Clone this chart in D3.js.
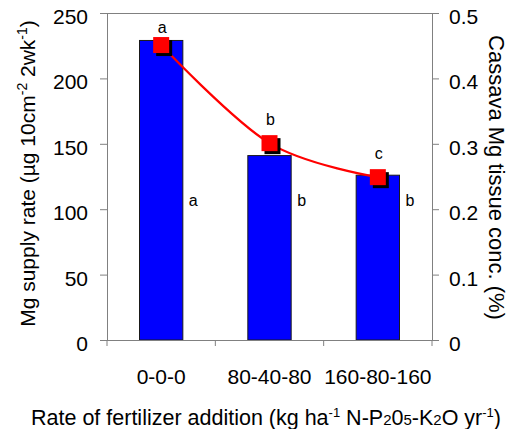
<!DOCTYPE html>
<html>
<head>
<meta charset="utf-8">
<script src="https://cdn.jsdelivr.net/npm/d3@7"></script>
<style>
body { margin: 0; background: #fff; }
text { font-family: "Liberation Sans", Arial, sans-serif; fill: #000; }
</style>
</head>
<body>
<div id="chart"></div>
<script>
// data
const treatments = ["0-0-0", "80-40-80", "160-80-160"];
const supplyRate = [229, 141, 126];          // bars, left axis
const tissueConc = [0.451, 0.301, 0.249];    // red squares, right axis
const barLetters = ["a", "b", "b"];
const lineLetters = ["a", "b", "c"];
const leftTicks = [0, 50, 100, 150, 200, 250];
const rightTicks = [0, 0.1, 0.2, 0.3, 0.4, 0.5];

const width = 511, height = 429;
const margin = { top: 13, right: 79, bottom: 89, left: 107 };

const svg = d3.select("#chart").append("svg")
  .attr("width", width)
  .attr("height", height);

const x = d3.scaleBand()
  .domain(treatments)
  .range([margin.left, width - margin.right]);

const yL = d3.scaleLinear().domain([0, 250]).range([height - margin.bottom, margin.top]);
const yR = d3.scaleLinear().domain([0, 0.5]).range([height - margin.bottom, margin.top]);

const barW = x.bandwidth() * 0.4;

// top frame line
svg.append("line")
  .attr("x1", margin.left).attr("x2", width - margin.right)
  .attr("y1", margin.top + 0.5).attr("y2", margin.top + 0.5)
  .attr("stroke", "#808080");

// bars
svg.append("g").selectAll("rect")
  .data(supplyRate)
  .join("rect")
  .attr("x", (d, i) => x(treatments[i]) + x.bandwidth() / 2 - barW / 2)
  .attr("y", d => yL(d))
  .attr("width", barW)
  .attr("height", d => yL(0) - yL(d))
  .attr("fill", "#0000ff")
  .attr("stroke", "#1a1a1a")
  .attr("stroke-width", 1);

// left axis
const gL = svg.append("g")
  .attr("transform", `translate(${margin.left},0)`)
  .call(d3.axisLeft(yL).tickValues(leftTicks).tickSize(7).tickPadding(12));
// right axis
const gR = svg.append("g")
  .attr("transform", `translate(${width - margin.right},0)`)
  .call(d3.axisRight(yR).tickValues(rightTicks).tickSize(7).tickPadding(10)
    .tickFormat(d => d === 0 ? "0" : d3.format(".1f")(d)));
// bottom axis
const gB = svg.append("g")
  .attr("transform", `translate(0,${height - margin.bottom})`)
  .call(d3.axisBottom(x).tickSize(0).tickPadding(29));

[gL, gR, gB].forEach(g => {
  g.select(".domain").attr("stroke", "#808080");
  g.selectAll(".tick line").attr("stroke", "#808080");
  g.selectAll("text").style("font-size", "21px").style("font-family", "Liberation Sans, Arial, sans-serif").attr("fill", "#000");
});
gL.selectAll(".tick text").attr("dy", "0.5em");
gR.selectAll(".tick text").attr("dy", "0.5em");
gB.select(".domain").attr("d", `M${margin.left},0.5H${width - margin.right}`);

// category boundary ticks on bottom axis
gB.append("g").selectAll("line")
  .data(treatments.concat(["end"]))
  .join("line")
  .attr("x1", (d, i) => i < treatments.length ? x(d) : x(treatments[treatments.length - 1]) + x.bandwidth())
  .attr("x2", (d, i) => i < treatments.length ? x(d) : x(treatments[treatments.length - 1]) + x.bandwidth())
  .attr("y1", 0).attr("y2", 6)
  .attr("stroke", "#808080");

// red smoothed curve
const cx = (d, i) => x(treatments[i]) + x.bandwidth() / 2;
const line = d3.line()
  .x(cx)
  .y(d => yR(d))
  .curve(d3.curveCardinal.tension(0));

svg.append("path")
  .datum(tissueConc)
  .attr("d", line)
  .attr("fill", "none")
  .attr("stroke", "#ff0000")
  .attr("stroke-width", 2.2);

const ms = 16;
// marker shadows
svg.append("g").selectAll("rect")
  .data(tissueConc)
  .join("rect")
  .attr("x", (d, i) => cx(d, i) - ms / 2 + 3)
  .attr("y", d => yR(d) - ms / 2 + 3)
  .attr("width", ms).attr("height", ms)
  .attr("fill", "#000");
// markers
svg.append("g").selectAll("rect")
  .data(tissueConc)
  .join("rect")
  .attr("x", (d, i) => cx(d, i) - ms / 2)
  .attr("y", d => yR(d) - ms / 2)
  .attr("width", ms).attr("height", ms)
  .attr("fill", "#ff0000");

// letters above markers
svg.append("g").selectAll("text")
  .data(tissueConc)
  .join("text")
  .attr("x", (d, i) => cx(d, i) + 1)
  .attr("y", d => Math.max(yR(d) - 18, 33))
  .attr("text-anchor", "middle")
  .style("font-size", "16px")
  .text((d, i) => lineLetters[i]);

// letters beside bars
svg.append("g").selectAll("text")
  .data(supplyRate)
  .join("text")
  .attr("x", (d, i) => cx(d, i) + barW / 2 + 6)
  .attr("y", yL(100) - 3)
  .style("font-size", "16px")
  .text((d, i) => barLetters[i]);

// axis titles
const midY = (margin.top + height - margin.bottom) / 2;
const lt = svg.append("text")
  .attr("transform", `translate(35,${midY - 3}) rotate(-90)`)
  .attr("text-anchor", "middle")
  .style("font-size", "21px");
lt.append("tspan").text("Mg supply rate (\u00b5g 10cm");
lt.append("tspan").attr("dy", -8).style("font-size", "14px").text("-2");
lt.append("tspan").attr("dy", 8).text(" 2wk");
lt.append("tspan").attr("dy", -8).style("font-size", "14px").text("-1");
lt.append("tspan").attr("dy", 8).text(")");

svg.append("text")
  .attr("transform", `translate(489,${midY + 1}) rotate(90)`)
  .attr("text-anchor", "middle")
  .style("font-size", "22px")
  .text("Cassava Mg tissue conc. (%)");

const bt = svg.append("text")
  .attr("x", 266).attr("y", 425)
  .attr("text-anchor", "middle")
  .style("font-size", "21.5px");
bt.append("tspan").text("Rate of fertilizer addition (kg ha");
bt.append("tspan").attr("dy", -8).style("font-size", "13px").text("-1");
bt.append("tspan").attr("dy", 8).text(" N-P");
bt.append("tspan").style("font-size", "15px").text("2");
bt.append("tspan").text("0");
bt.append("tspan").style("font-size", "15px").text("5");
bt.append("tspan").text("-K");
bt.append("tspan").style("font-size", "15px").text("2");
bt.append("tspan").text("O yr");
bt.append("tspan").attr("dy", -8).style("font-size", "13px").text("-1");
bt.append("tspan").attr("dy", 8).text(")");
</script>
</body>
</html>
